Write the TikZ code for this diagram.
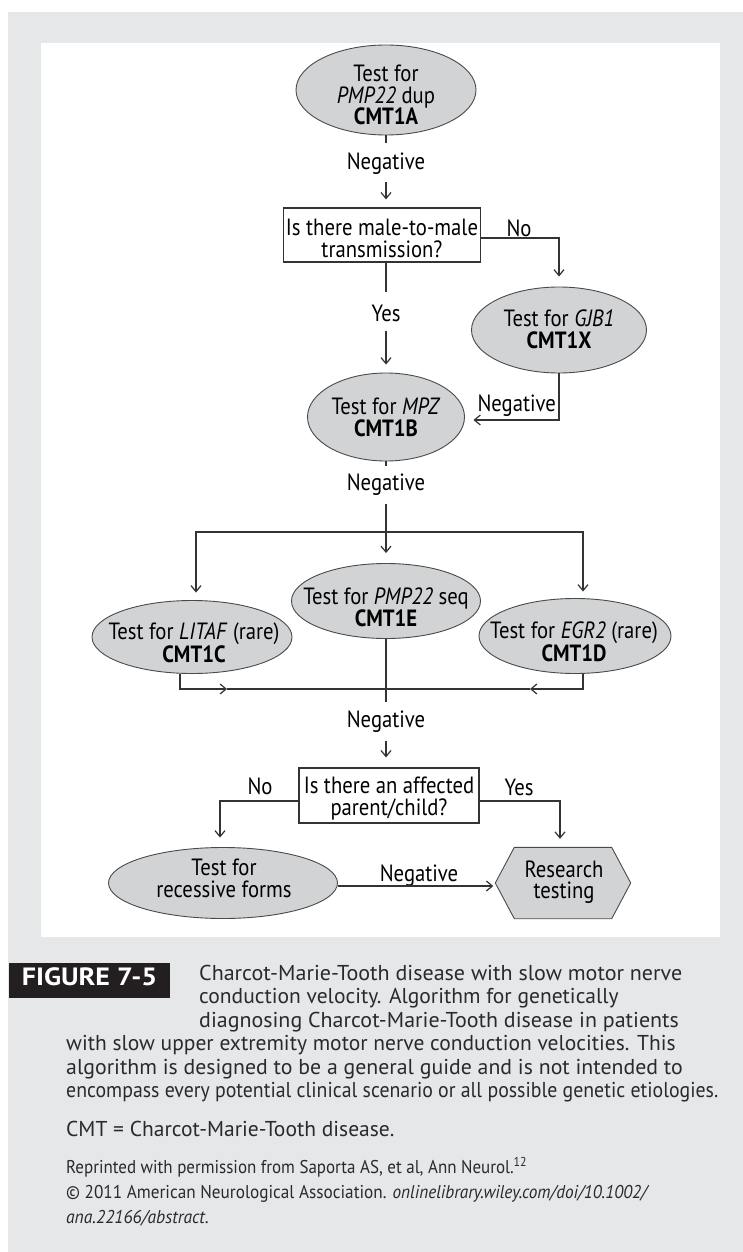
\documentclass[tikz,border=0pt]{standalone}
\usepackage{fontspec}
\usepackage{graphicx}
\setmainfont{PT Sans}[FakeStretch=0.88]
\newfontfamily\capfont{PT Sans}[FakeStretch=0.9]
\newfontfamily\figfont{PT Sans}[FakeStretch=1.12]
\usetikzlibrary{arrows.meta,shapes.geometric,calc}
\definecolor{panel}{HTML}{E6E7E8}
\definecolor{ellfill}{HTML}{D1D3D4}
\definecolor{ellline}{HTML}{4A4A4A}
\definecolor{ink}{HTML}{231F20}
\definecolor{linec}{HTML}{333333}
\definecolor{captext}{HTML}{2A2A2A}
\newcommand{\fitw}[2]{\resizebox{#1pt}{\height}{#2}}
\begin{document}
\begin{tikzpicture}[x=1pt,y=-1pt,
  ell/.style={ellipse, draw=ellline, fill=ellfill, line width=0.9pt, inner sep=0pt},
  hexs/.style={draw=ellline, fill=ellfill, line width=0.9pt},
  qbox/.style={rectangle, draw=linec, line width=1.2pt, fill=white, inner sep=0pt},
  txt/.style={align=center, font=\fontsize{23.5}{21.5}\selectfont, inner sep=0pt, text=black},
  lbl/.style={font=\fontsize{23.5}{22}\selectfont, inner sep=0pt, text=black},
  conn/.style={draw=linec, line width=1.2pt},
  arr/.style={conn, -{Straight Barb[length=6pt,width=10pt]}},
  capline/.style={anchor=base west, inner sep=0pt, text=captext, font=\capfont\fontsize{21.5}{23}\selectfont},
  smline/.style={anchor=base west, inner sep=0pt, text=captext, font=\capfont\fontsize{18.5}{20}\selectfont}
]
\useasboundingbox (0,0) rectangle (743,1252);
\fill[white] (0,0) rectangle (743,1252);
\fill[panel] (8,12) rectangle (743,1252);
\fill[white] (41,43) rectangle (720,937);

% shapes
\node[ell, minimum width=180, minimum height=90] (A) at (386,90) {};
\node[txt] (At) at (386,95.25) {Test for\\\textit{PMP22} dup\\\textbf{CMT1A}};

\node[qbox, minimum width=197, minimum height=54] (B) at (382,235) {};
\node[txt] (Bt) at (382,238.5) {Is there male-to-male\\transmission?};

\node[ell, minimum width=175, minimum height=86] (C) at (559,330) {};
\node[txt] (Ct) at (559,329.25) {Test for \textit{GJB1}\\\textbf{CMT1X}};

\node[ell, minimum width=157, minimum height=88] (D) at (386,417) {};
\node[txt] (Dt) at (386,417.25) {Test for \textit{MPZ}\\\textbf{CMT1B}};

\node[ell, minimum width=189, minimum height=75] (E) at (386,601) {};
\node[txt] (Et) at (386,607.25) {Test for \textit{PMP22} seq\\\textbf{CMT1E}};

\node[ell, minimum width=200, minimum height=73] (F) at (192,637) {};
\node[txt] (Ft) at (194,642.5) {Test for \textit{LITAF} (rare)\\\textbf{CMT1C}};

\node[ell, minimum width=192, minimum height=75] (G) at (575,636) {};
\node[txt] (Gt) at (574,641.5) {Test for \textit{EGR2} (rare)\\\textbf{CMT1D}};

\node[qbox, minimum width=180, minimum height=55] (H) at (389,795.5) {};
\node[txt] (Ht) at (389,798.5) {Is there an affected\\parent/child?};

\node[ell, minimum width=229, minimum height=71] (I) at (223,883) {};
\node[txt] (It) at (224,878.5) {Test for\\recessive forms};

\node[minimum width=135, minimum height=71, inner sep=0pt] (R) at (563,883) {};
\draw[hexs] (R.west) -- ($(R.north west)+(19,0)$) -- ($(R.north east)+(-19,0)$) -- (R.east)
  -- ($(R.south east)+(-19,0)$) -- ($(R.south west)+(19,0)$) -- cycle;
\node[txt] (Rt) at (564,882) {Research\\testing};

% labels
\node[lbl] (nA) at (386,164) {Negative};
\node[lbl] (noB) at (519,228.3) {No};
\node[lbl] (yB) at (386,313) {Yes};
\node[lbl] (nC) at (516.7,406) {Negative};
\node[lbl] (nD) at (386,485) {Negative};
\node[lbl] (nE) at (386,722) {Negative};
\node[lbl] (noH) at (260,786.5) {No};
\node[lbl] (yesH) at (519,787) {Yes};
\node[lbl] (nI) at (419,875.6) {Negative};

% connectors
\draw[conn, shorten >=10] (A.south) -- (nA.north);
\draw[arr, shorten <=7, shorten >=8] (nA.south) -- (nA.south |- B.north);

\draw[arr, shorten >=10] ([yshift=-3pt]B.east) -| (C.north);

\draw[conn, shorten >=12] (yB |- B.south) -- (yB.north);
\draw[arr, shorten <=9, shorten >=8] (yB.south) -- (D.north);

\draw[arr, shorten >=8.5] (C.south) |- ([yshift=-3pt]D.east);

\draw[conn, shorten >=8] (D.south) -- (nD.north);
\draw[arr, shorten <=8, shorten >=10] (nD.south) -- (E.north);
\coordinate (sp) at (386,532);
\draw[arr, shorten >=7.5] (sp) -| ([xshift=4pt]F.north);
\draw[arr, shorten >=6.5] (sp) -| ([xshift=8pt]G.north);

\coordinate (mg) at (386,689);
\coordinate (mgL) at (227,689);
\coordinate (mgR) at (530,689);
\draw[arr] ([xshift=-12pt]F.south) |- (mgL);
\draw[conn] (mgL) -- (mg);
\draw[arr] ([xshift=8pt]G.south) |- (mgR);
\draw[conn] (mgR) -- (mg);
\draw[conn, shorten >=9] (E.south) -- (nE.north);
\draw[arr, shorten <=8, shorten >=10] (nE.south) -- (nE.south |- H.north);

\draw[arr, shorten >=9.5] ([yshift=-5.5pt]H.west) -| ([xshift=-3pt]I.north);
\draw[arr, shorten >=8.5] ([yshift=-5.5pt]H.east) -| ([xshift=-3pt]R.north);
\draw[arr, shorten >=2] ([yshift=-3pt]I.east) -- ([yshift=-3pt]R.west);

% caption
\node[fill=ink, minimum width=161.5, minimum height=35, inner sep=0pt, anchor=north west] (figbox) at (8.5,963) {};
\node[text=white, inner sep=0pt, font=\figfont\bfseries\fontsize{25}{25}\selectfont] (figlbl) at (89.5,976.5) {FIGURE 7-5};

\node[capline] (c1) at (199,980) {\fitw{483}{Charcot-Marie-Tooth disease with slow motor nerve}};
\node[capline] (c2) at (199,1003.5) {\fitw{419.5}{conduction velocity. Algorithm for genetically}};
\node[capline] (c3) at (199,1027) {\fitw{479.7}{diagnosing Charcot-Marie-Tooth disease in patients}};
\node[capline] (c4) at (66,1050.5) {\fitw{609.4}{with slow upper extremity motor nerve conduction velocities. This}};
\node[capline] (c5) at (66,1074) {\fitw{616.5}{algorithm is designed to be a general guide and is not intended to}};
\node[capline] (c6) at (66,1097.5) {\fitw{652}{encompass every potential clinical scenario or all possible genetic etiologies.}};
\node[capline] (c7) at (66,1136) {\fitw{328.3}{CMT = Charcot-Marie-Tooth disease.}};
\node[smline] (s1) at (66,1173) {\fitw{461}{Reprinted with permission from Saporta AS, et al, Ann Neurol.\textsuperscript{12}}};
\node[smline] (s2) at (66,1198) {\fitw{583.3}{© 2011 American Neurological Association. \textit{onlinelibrary.wiley.com/doi/10.1002/}}};
\node[smline] (s3) at (66,1223) {\fitw{142.5}{\textit{ana.22166/abstract}.}};
\end{tikzpicture}
\end{document}
